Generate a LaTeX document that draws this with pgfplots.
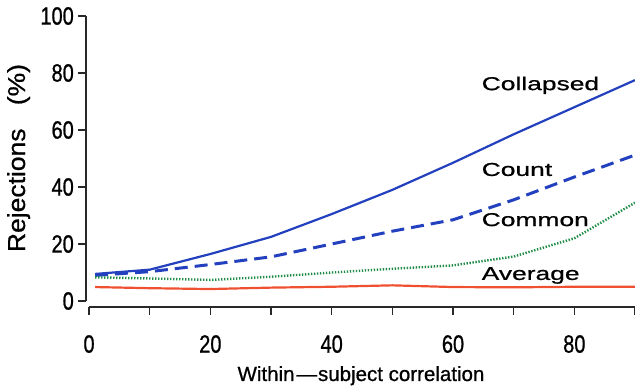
\documentclass[border=0pt]{standalone}
\usepackage{pgfplots}
\pgfplotsset{compat=1.18}
\usepackage{fontspec}
\setmainfont{Liberation Sans}
\newfontfamily\tickfont[FakeStretch=0.8,FakeBold=0.8]{Liberation Sans}
\newfontfamily\widefont[FakeStretch=1.42,FakeBold=0.8]{Liberation Sans}
\newfontfamily\xlabfont[FakeStretch=1.0,FakeBold=0.8]{Liberation Sans}
\newfontfamily\ylabfont[FakeStretch=1.08,FakeBold=0.8]{Liberation Sans}
\definecolor{cblue}{RGB}{35,65,190}
\definecolor{cgreen}{RGB}{30,140,70}
\definecolor{cred}{RGB}{240,80,50}
\definecolor{axgray}{RGB}{40,40,40}
\begin{document}
\begin{tikzpicture}
\begin{axis}[
  at={(86pt,84pt)}, anchor=south west,
  scale only axis, width=549pt, height=291pt,
  xmin=-0.5, xmax=90, ymin=-2.1, ymax=100,
  axis lines=left,
  axis line style={-, draw=none},
  xtick={0,20,...,80},
  ytick={0,20,...,100},
  tick align=outside, major tick length=7pt,
  every tick/.style={draw=none},
  /pgf/number format/assume math mode=true,
  tick label style={font=\tickfont\fontsize{25}{25}\selectfont, inner sep=0pt},
  xticklabel style={anchor=north, yshift=-21pt},
  yticklabel style={anchor=east, xshift=-5pt},
  clip=false,
]
\draw[axgray, line width=1.4pt] (axis cs:0,-2.1) -- (axis cs:90,-2.1);
\draw[axgray, line width=1.4pt] (axis cs:-0.5,0) -- (axis cs:-0.5,100);
\pgfplotsinvokeforeach{0,20,40,60,80,100}{\draw[axgray, line width=1.6pt] (axis cs:-0.5,#1) -- ++(-8pt,0pt);}
\pgfplotsinvokeforeach{0,10,20,30,40,50,60,70,80,90}{\draw[axgray, line width=1.6pt] (axis cs:#1,-2.1) -- ++(0pt,-8pt);}
\addplot[cblue, line width=2.2pt] coordinates {(1,9.5)(10,11)(20,16.5)(30,22.5)(40,30.5)(50,39)(60,48.5)(70,58.5)(80,68)(90,77.5)};
\addplot[cblue, line width=3pt, dash pattern=on 13pt off 7pt] coordinates {(1,9)(10,10.3)(20,12.8)(30,15.5)(40,20)(50,24.5)(60,28.5)(70,35.5)(80,43.5)(90,51.2)};
\addplot[cgreen, line width=2.4pt, dash pattern=on 1.4pt off 1.6pt] coordinates {(1,8.3)(10,7.9)(20,7.4)(30,8.5)(40,10)(50,11.3)(60,12.5)(70,15.6)(80,22)(90,34.5)};
\addplot[cred, line width=2.2pt] coordinates {(1,4.9)(10,4.5)(20,4.2)(30,4.7)(40,5.0)(50,5.5)(60,4.9)(70,4.8)(80,5.0)(90,5.0)};
\node[anchor=base west, inner sep=0pt, font=\widefont\fontsize{18.6}{18.6}\selectfont] at (axis cs:64.7,74) {Collapsed};
\node[anchor=base west, inner sep=0pt, font=\widefont\fontsize{18.6}{18.6}\selectfont] at (axis cs:64.7,43.9) {Count};
\node[anchor=base west, inner sep=0pt, font=\widefont\fontsize{18.6}{18.6}\selectfont] at (axis cs:64.7,26.3) {Common};
\node[anchor=base west, inner sep=0pt, font=\widefont\fontsize{18.6}{18.6}\selectfont] at (axis cs:64.7,7.4) {Average};
\end{axis}
\node[rotate=90, anchor=base, inner sep=0pt, font=\ylabfont\fontsize{24.5}{24.5}\selectfont] at (25pt,233pt) {Rejections\hspace{16pt} (\%)};
\node[anchor=base, inner sep=0pt, font=\xlabfont\fontsize{20.5}{20.5}\selectfont] at (361pt,10pt) {Within\kern2pt—\kern1pt subject correlation};
\pgfresetboundingbox
\useasboundingbox (0pt,0pt) rectangle (635pt,391pt);
\end{tikzpicture}
\end{document}
